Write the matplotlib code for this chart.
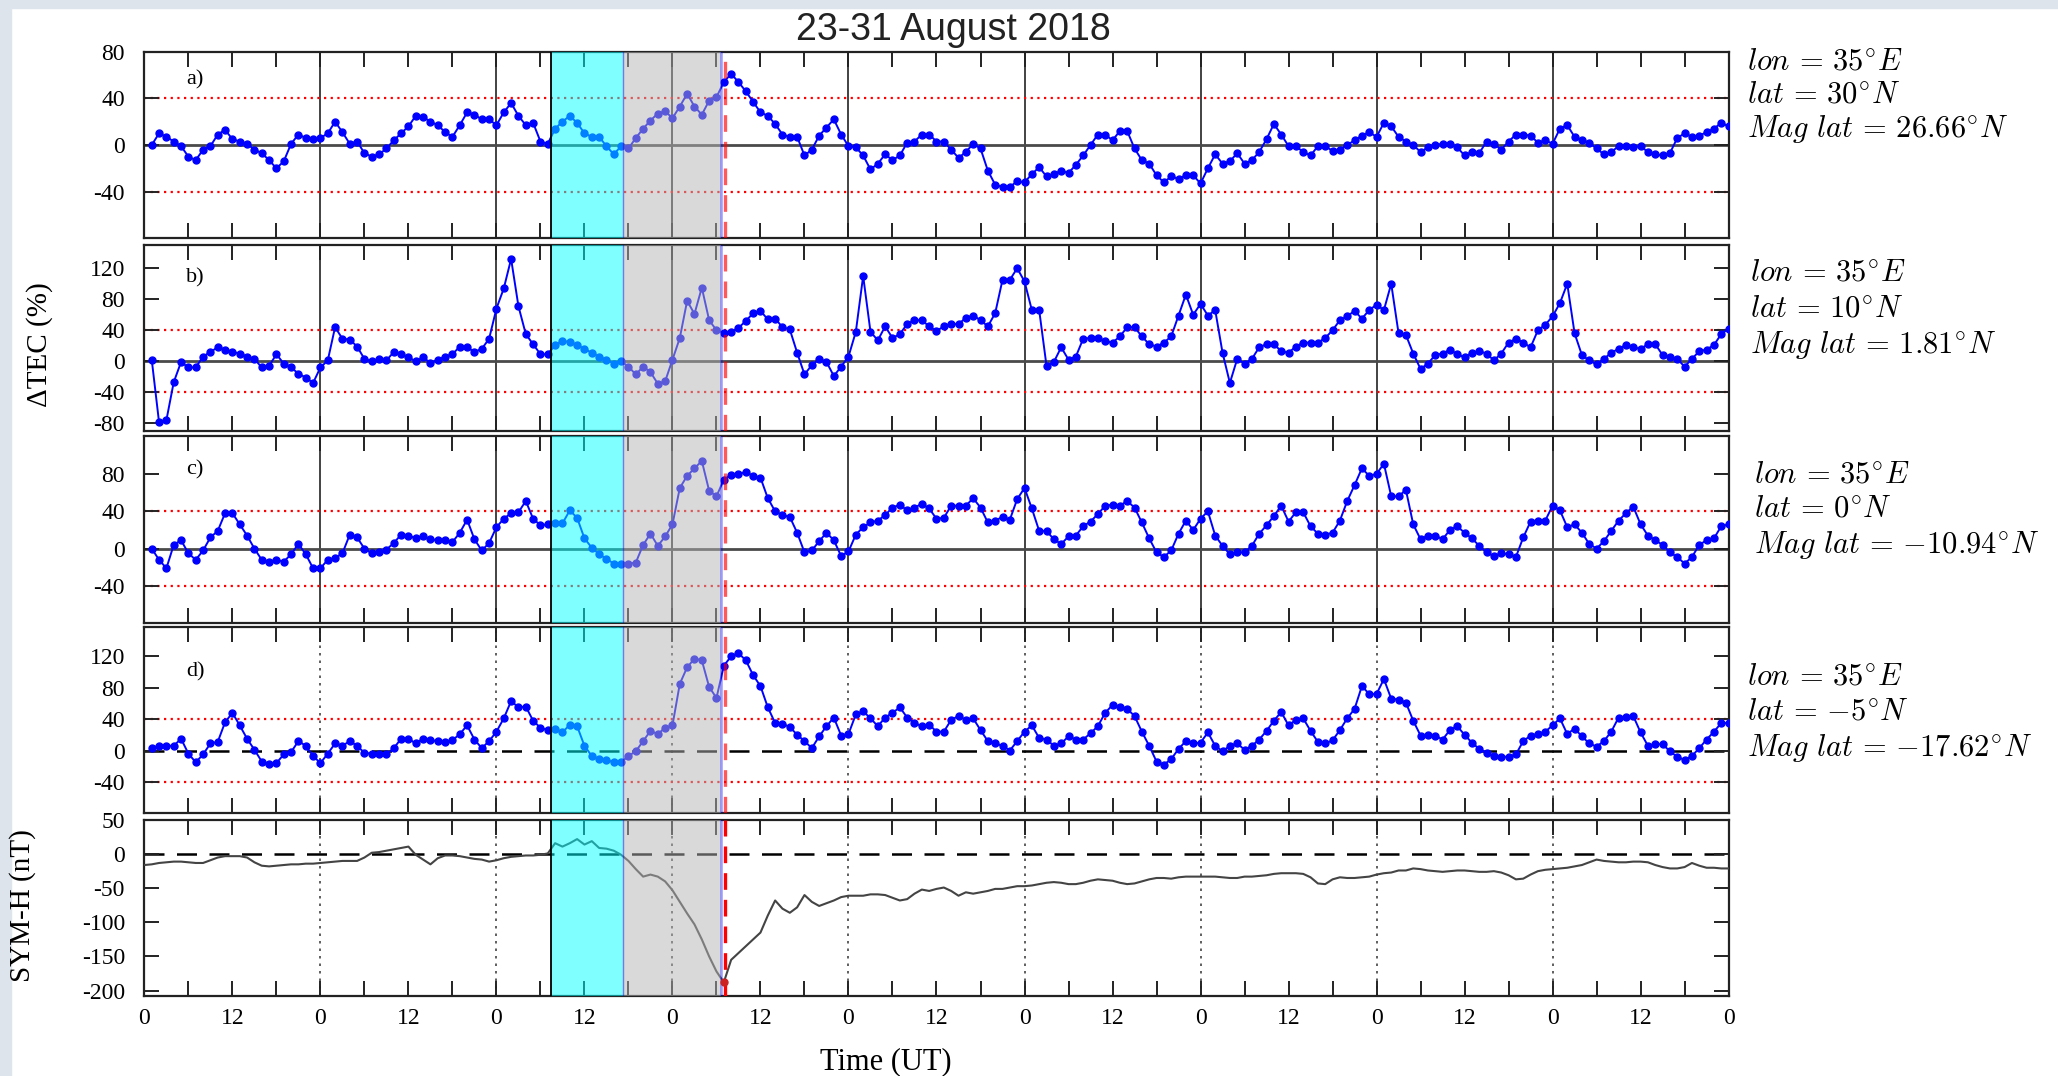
import numpy as np
import matplotlib.pyplot as plt
from matplotlib.patches import Rectangle

plt.rcParams['font.family'] = ['Liberation Serif', 'DejaVu Serif']
plt.rcParams['mathtext.fontset'] = 'cm'
plt.rcParams['axes.unicode_minus'] = False

W, H = 2058, 1076

# hourly dTEC (%) at 01..216 h after 23 Aug 2018 00 UT
tec_hours = np.arange(1, 217)
tec_a = [0, 10, 7, 3, -1, -10, -13, -4, -1, 9, 13, 5, 3, 1, -4, -7, -13, -20, -14, 1, 9, 6, 5, 6,
         10, 20, 11, 1, 3, -7, -10, -8, -3, 4, 10, 16, 25, 24, 20, 17, 11, 7, 17, 28, 26, 22, 22, 17,
         28, 36, 25, 17, 19, 3, 1, 14, 20, 25, 19, 10, 7, 7, -1, -8, -1, -3, 6, 14, 21, 27, 29, 23,
         33, 44, 33, 26, 38, 41, 54, 61, 54, 46, 37, 28, 25, 18, 9, 7, 7, -9, -4, 8, 15, 22, 9, -1,
         -2, -9, -21, -16, -8, -13, -9, 2, 3, 9, 9, 3, 3, -4, -11, -6, 1, -3, -22, -34, -36, -36, -31, -32,
         -25, -19, -27, -25, -22, -24, -17, -9, 0, 9, 9, 4, 12, 12, -3, -13, -16, -26, -32, -27, -29, -26, -26, -33,
         -20, -8, -16, -14, -7, -16, -13, -6, 5, 18, 9, -1, -1, -6, -9, -1, -1, -5, -4, 0, 4, 8, 11, 7,
         19, 16, 7, 3, 0, -6, -2, 0, 1, 1, -2, -9, -6, -7, 3, 1, -4, 3, 9, 9, 8, 2, 4, 1,
         14, 17, 7, 4, 2, -3, -8, -6, -1, -1, -2, -1, -6, -8, -9, -7, 6, 10, 7, 8, 11, 14, 19, 16]
tec_b = [2, -79, -76, -27, -1, -8, -8, 6, 12, 18, 15, 12, 10, 6, 3, -8, -6, 9, -3, -8, -16, -21, -28, -8,
         1, 44, 29, 28, 19, 3, 0, 3, 1, 12, 9, 5, 0, 5, -2, 2, 6, 9, 19, 18, 12, 16, 29, 68,
         94, 132, 71, 35, 22, 9, 9, 21, 26, 25, 21, 16, 11, 6, 2, -3, 0, -7, -17, -7, -14, -29, -26, 2,
         30, 78, 61, 95, 53, 40, 36, 38, 43, 52, 62, 65, 54, 55, 44, 41, 11, -17, -5, 3, -1, -19, -7, 6,
         38, 110, 38, 27, 45, 30, 35, 48, 53, 53, 45, 39, 45, 48, 48, 56, 59, 53, 45, 62, 105, 105, 120, 103,
         66, 66, -6, -1, 18, 2, 6, 29, 30, 30, 26, 24, 32, 44, 44, 32, 22, 19, 24, 32, 59, 86, 60, 74,
         59, 66, 11, -28, 3, -3, 3, 18, 22, 22, 13, 11, 19, 24, 24, 24, 30, 40, 53, 58, 65, 55, 66, 73,
         66, 100, 36, 34, 10, -10, -3, 8, 10, 15, 9, 5, 11, 13, 10, 1, 10, 24, 29, 24, 18, 40, 47, 58,
         75, 100, 36, 8, 1, -4, 3, 11, 16, 21, 18, 16, 22, 22, 8, 5, 3, -7, 3, 13, 15, 21, 35, 42]
tec_c = [0, -12, -21, 4, 9, -5, -12, -2, 12, 19, 38, 38, 26, 14, 0, -12, -14, -12, -14, -6, 5, -6, -21, -21,
         -12, -10, -5, 15, 12, 0, -5, -4, -1, 6, 15, 14, 11, 13, 10, 9, 9, 7, 17, 31, 10, -2, 6, 23,
         32, 38, 39, 51, 32, 25, 26, 27, 27, 41, 33, 11, 1, -6, -11, -16, -17, -16, -15, 4, 16, 3, 13, 26,
         65, 78, 86, 94, 62, 56, 74, 79, 80, 82, 78, 76, 54, 40, 36, 34, 17, -4, -2, 8, 17, 9, -8, -3,
         15, 23, 28, 30, 36, 44, 47, 41, 44, 48, 43, 32, 33, 46, 46, 46, 54, 44, 28, 30, 34, 31, 53, 65,
         43, 19, 19, 10, 5, 13, 14, 24, 29, 37, 46, 47, 46, 51, 44, 28, 11, -4, -9, -2, 16, 30, 20, 32,
         40, 14, 3, -6, -4, -4, 3, 16, 25, 35, 46, 29, 39, 39, 24, 16, 15, 17, 30, 51, 68, 86, 78, 80,
         91, 56, 56, 63, 26, 10, 14, 14, 10, 20, 24, 17, 11, 3, -4, -8, -5, -6, -9, 12, 29, 30, 30, 46,
         41, 23, 26, 17, 5, 0, 8, 19, 30, 38, 45, 26, 14, 9, 4, -4, -9, -16, -9, 4, 9, 11, 24, 26]
tec_d = [3, 6, 6, 6, 15, -4, -15, -5, 9, 11, 36, 48, 32, 15, 1, -14, -17, -16, -5, -2, 12, 6, -7, -16,
         -4, 9, 6, 12, 6, -3, -4, -4, -5, 3, 15, 15, 9, 15, 13, 12, 11, 13, 21, 32, 14, 3, 12, 24,
         41, 63, 55, 56, 38, 29, 26, 27, 23, 33, 31, 6, -7, -11, -12, -15, -15, -7, -1, 12, 25, 21, 29, 32,
         85, 106, 117, 115, 81, 67, 108, 120, 124, 115, 96, 82, 55, 35, 34, 30, 20, 12, 3, 18, 31, 42, 19, 21,
         46, 50, 41, 31, 42, 48, 55, 42, 35, 31, 33, 24, 24, 39, 44, 39, 41, 26, 12, 9, 6, 0, 12, 24,
         32, 16, 14, 6, 9, 18, 14, 14, 22, 31, 48, 58, 56, 53, 44, 24, 6, -14, -18, -11, 2, 12, 9, 10,
         23, 6, -1, 6, 9, 1, 6, 14, 25, 38, 49, 32, 39, 41, 25, 11, 9, 13, 26, 41, 53, 82, 72, 72,
         91, 66, 65, 61, 38, 19, 20, 19, 14, 26, 31, 20, 10, 2, -3, -7, -8, -8, -5, 12, 19, 21, 24, 32,
         41, 21, 28, 18, 9, 5, 12, 24, 42, 43, 44, 23, 6, 8, 8, -1, -8, -12, -7, 3, 14, 24, 35, 35]

# SYM-H (nT), read hourly from 0 to 216 h
symh_hours = np.arange(0, 217)
symh = [-16, -15, -13, -12, -11, -11, -12, -13, -13, -9, -5, -3, -3, -3, -5, -12, -17, -18, -17, -16, -15, -15, -14, -14,
        -13, -12, -11, -10, -10, -10, -5, 2, 3, 5, 7, 9, 11, -1, -8, -15, -6, -2, -2, -3, -5, -7, -8, -11,
        -9, -6, -4, -3, -2, -2, -1, 1, 16, 11, 16, 22, 14, 19, 9, 8, 5, -1, -10, -22, -33, -30, -33, -40,
        -53, -70, -87, -103, -125, -150, -172, -188, -155, -145, -135, -125, -115, -90, -68, -80, -86, -78, -60, -70, -76, -72, -68, -63,
        -61, -61, -61, -59, -59, -60, -64, -68, -66, -58, -52, -54, -51, -49, -54, -61, -56, -58, -56, -54, -51, -51, -49, -47,
        -47, -46, -44, -42, -41, -42, -44, -44, -42, -39, -37, -38, -39, -42, -44, -43, -40, -37, -35, -35, -36, -34, -33, -33,
        -33, -33, -33, -34, -35, -35, -33, -33, -32, -31, -29, -28, -28, -28, -29, -34, -43, -44, -37, -34, -35, -35, -34, -33,
        -30, -28, -27, -24, -24, -21, -22, -24, -25, -26, -25, -24, -24, -25, -26, -26, -25, -27, -31, -37, -36, -30, -25, -23,
        -22, -21, -20, -18, -16, -12, -8, -10, -11, -12, -12, -11, -11, -12, -16, -19, -21, -21, -19, -13, -17, -20, -20, -21, -21]

panel_tags = ['a)', 'b)', 'c)', 'd)']
loc_text = [[r'$lon\,=\,35^{\circ}E$', r'$lat\,=\,30^{\circ}N$', r'$Mag\ lat\,=\,26.66^{\circ}N$'],
            [r'$lon\,=\,35^{\circ}E$', r'$lat\,=\,10^{\circ}N$', r'$Mag\ lat\,=\,1.81^{\circ}N$'],
            [r'$lon\,=\,35^{\circ}E$', r'$lat\,=\,0^{\circ}N$', r'$Mag\ lat\,=\,{-}10.94^{\circ}N$'],
            [r'$lon\,=\,35^{\circ}E$', r'$lat\,=\,{-}5^{\circ}N$', r'$Mag\ lat\,=\,{-}17.62^{\circ}N$']]
yticks = [[-40, 0, 40, 80], [-80, -40, 0, 40, 80, 120], [-40, 0, 40, 80],
          [-40, 0, 40, 80, 120], [-200, -150, -100, -50, 0, 50]]
ylims = [(-80, 80), (-90, 150), (-80, 121), (-80, 157), (-208, 50)]

# event times (h)
cyan_span = (55.4, 65.2)
gray_span = (65.3, 78.6)
symh_min_t = 79.1

# panel boxes in pixels: top, bottom
boxes = [(51.7, 238.3), (245, 431), (435.7, 623.3), (627.3, 813.3), (820, 996)]
x0, x1 = 144.4, 1728.6

fig = plt.figure(figsize=(W / 100, H / 100), dpi=100)
fig.patches.append(Rectangle((0, 1 - 8 / H), 1, 8 / H, transform=fig.transFigure,
                             color='#dde4ec', zorder=0))
fig.patches.append(Rectangle((0, 0), 11 / W, 1, transform=fig.transFigure,
                             color='#dde4ec', zorder=0))

series = [tec_a, tec_b, tec_c, tec_d]
tag_y = [80, 278, 470, 672]
axes = []
for i, (top, bot) in enumerate(boxes):
    ax = fig.add_axes([x0 / W, 1 - bot / H, (x1 - x0) / W, (bot - top) / H])
    axes.append(ax)
    ax.set_xlim(0, 216)
    ax.set_ylim(*ylims[i])
    ax.set_yticks(yticks[i])
    ax.set_xticks(np.arange(0, 217, 6))
    if i == 4:
        ax.set_xticklabels(['0' if h % 24 == 0 else ('12' if h % 24 == 12 else '')
                            for h in range(0, 217, 6)])
    else:
        ax.set_xticklabels([])
    ax.tick_params(axis='both', direction='in', top=True, right=True,
                   length=11, width=1.4, color='#222222', labelsize=17)
    ax.tick_params(axis='x', pad=9)
    ax.tick_params(axis='y', pad=14)
    for sp in ax.spines.values():
        sp.set_linewidth(1.6)
        sp.set_color('#222222')

    # day boundaries
    for d in range(24, 216, 24):
        if i < 3:
            ax.axvline(d, color='#222222', lw=1.2, zorder=1)
        else:
            ax.axvline(d, color='#444444', lw=1.2, ls=(0, (1.5, 3)), zorder=1)

    if i < 4:
        ax.axhline(40, color='red', lw=1.6, ls=(0, (1, 2)), zorder=1)
        ax.axhline(-40, color='red', lw=1.6, ls=(0, (1, 2)), zorder=1)
        if i < 3:
            ax.axhline(0, color='#4a4a4a', lw=2.0, zorder=1)
        else:
            ax.axhline(0, color='black', lw=1.8, ls=(0, (8, 5)), zorder=1)
        ax.plot(tec_hours, series[i], color='blue', lw=1.4, marker='o', ms=5, zorder=3)
        ax.text((186 - x0) / (x1 - x0), (bot - tag_y[i]) / (bot - top), panel_tags[i],
                transform=ax.transAxes, fontsize=16, va='center', ha='left')
    else:
        ax.axhline(0, color='black', lw=1.8, ls=(0, (8, 5)), zorder=1)
        ax.plot(symh_hours, symh, color='#444444', lw=1.5, zorder=3)
        ax.plot([symh_hours[79]], [symh[79]], 'o', color='#cc2222', ms=5, zorder=8)

    ax.axvspan(*cyan_span, facecolor='cyan', alpha=0.5, lw=0, zorder=5)
    ax.axvspan(*gray_span, facecolor='#b4b4b4', alpha=0.5, lw=0, zorder=5)
    ax.axvline(cyan_span[0], color='black', lw=1.3, zorder=6)
    ax.axvline(cyan_span[1], color='blue', lw=1.0, alpha=0.45, zorder=6)
    ax.axvline(gray_span[1], color='blue', lw=1.8, alpha=0.4, zorder=6)
    ax.axvline(symh_min_t, color='red', lw=2.4, ls=(0, (5, 3)),
               alpha=1.0 if i == 4 else 0.65, zorder=7)

# location labels at right
loc_x = [1747, 1750, 1754, 1747]
loc_y = [[62, 95, 129], [273, 309, 345], [475, 509, 545], [677, 712, 748]]
for i in range(4):
    for j in range(3):
        fig.text(loc_x[i] / W, 1 - loc_y[i][j] / H, loc_text[i][j], fontsize=22,
                 ha='left', va='center')

fig.text(953 / W, 1 - 30 / H, '23-31 August 2018', fontsize=27,
         family=['Liberation Sans', 'DejaVu Sans'], ha='center', va='center', color='#222222')
fig.text(40 / W, 1 - 345 / H, r'ΔTEC (%)', fontsize=21, rotation=90, ha='center', va='center')
fig.text(23 / W, 1 - 906 / H, 'SYM-H (nT)', fontsize=21, rotation=90, ha='center', va='center')
fig.text(886 / W, 1 - 1062 / H, 'Time (UT)', fontsize=22, ha='center', va='center')

fig.savefig('out.png', dpi=100)
